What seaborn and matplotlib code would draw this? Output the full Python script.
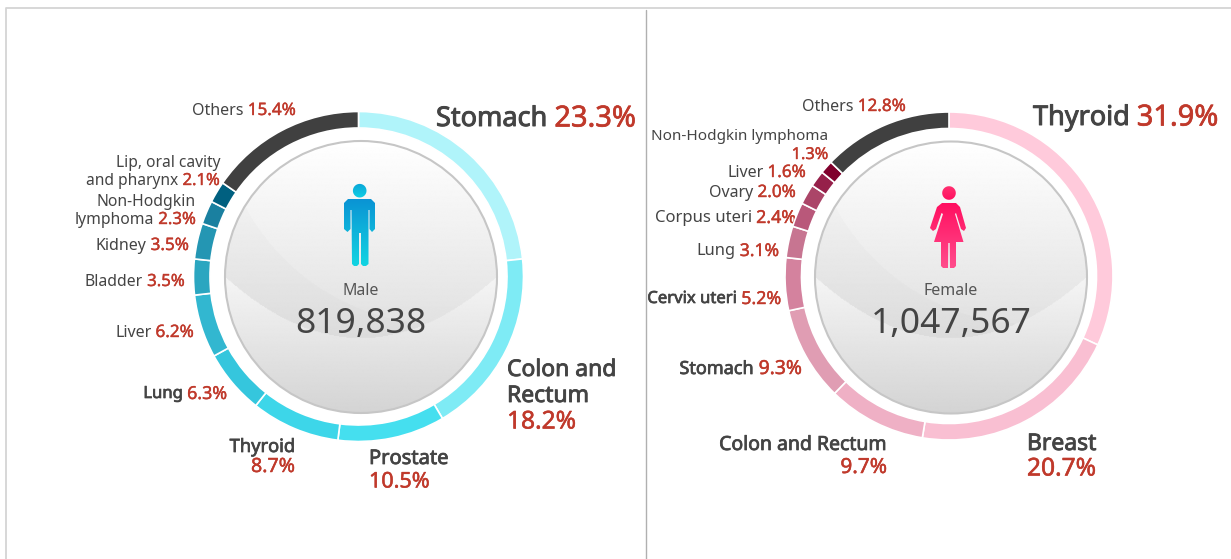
import numpy as np
import matplotlib
matplotlib.use("Agg")
import matplotlib.pyplot as plt
import matplotlib.patheffects as pe
import seaborn as sns
from matplotlib.patches import Circle, PathPatch
from matplotlib.path import Path

# === data ===
male_names = ["Stomach", "Colon and\nRectum\n", "Prostate\n", "Thyroid\n", "Lung", "Liver", "Bladder",
              "Kidney", "Non-Hodgkin\nlymphoma", "Lip, oral cavity\nand pharynx", "Others"]
male_pct = [23.3, 18.2, 10.5, 8.7, 6.3, 6.2, 3.5, 3.5, 2.3, 2.1, 15.4]
male_colors = ["#b0f4fa", "#7eebf5", "#45dfef", "#3dd6e9", "#35c6dd", "#32b7d0", "#2ba6c0",
               "#2496b3", "#1a80a0", "#006080", "#404040"]
male_total = "819,838"

female_names = ["Thyroid", "Breast\n", "Colon and Rectum\n", "Stomach", "Cervix uteri", "Lung", "Corpus uteri",
                "Ovary", "Liver", "Non-Hodgkin lymphoma\n", "Others"]
female_pct = [31.9, 20.7, 9.7, 9.3, 5.2, 3.1, 2.4, 2.0, 1.6, 1.3, 12.8]
female_colors = ["#ffcadb", "#f9bfd2", "#efb0c5", "#e09db3", "#d4829e", "#c77591", "#b9587a",
                 "#ab4568", "#96204a", "#80002c", "#404040"]
female_total = "1,047,567"

# === label layout: x, y of first line (px), align, size, name is bold, line step ===
male_layout = [
    (436, 119, "left", 19.5, True, 0), (507, 370, "left", 16.5, True, 26), (369, 459, "left", 14.5, True, 23),
    (295, 447, "right", 13.2, True, 20), (227, 394, "right", 12, True, 0), (194, 333, "right", 11.5, False, 0),
    (185, 282, "right", 11.3, False, 0), (189, 246, "right", 11.5, False, 0), (196, 202, "right", 11.3, False, 18),
    (220, 163, "right", 11.2, False, 18), (296, 111, "right", 11.5, False, 0),
]
female_layout = [
    (1033, 118, "left", 19.5, True, 0), (1027, 444, "left", 16.5, True, 25), (887, 445, "right", 14, True, 23),
    (802, 369, "right", 13, True, 0), (781, 299, "right", 12, True, 0), (779, 251, "right", 11.8, False, 0),
    (796, 218, "right", 12, False, 0), (796, 193, "right", 11.5, False, 0), (806, 173, "right", 11.5, False, 0),
    (828, 137, "right", 11, False, 18), (906, 107, "right", 11.5, False, 0),
]

sns.set_theme(style="white")
plt.rcParams["font.family"] = ["Noto Sans", "DejaVu Sans"]
W, H = 1231, 559
fig = plt.figure(figsize=(W / 100, H / 100), dpi=100)
bg = fig.add_axes([0, 0, 1, 1])
bg.set_xlim(0, W)
bg.set_ylim(H, 0)
bg.axis("off")
DARK = "#444444"
RED = "#c0392b"

# frame and divider
bg.plot([6, 6, W], [H, 8, 8], color="#d4d4d4", lw=1.3)
bg.plot([646, 646], [10, H], color="#b0b0b0", lw=1)


def ring(data, colors, cx, cy, r):
    ax = fig.add_axes([(cx - r) / W, 1 - (cy + r) / H, 2 * r / W, 2 * r / H])
    ax.pie(data, colors=sns.color_palette(colors), startangle=90, counterclock=False, radius=1,
           wedgeprops=dict(width=16.5 / r, edgecolor="white", linewidth=1.2))
    ax.set_xlim(-1, 1)
    ax.set_ylim(-1, 1)
    ax.patch.set_alpha(0)


def sphere(cx, cy, r):
    n = 300
    u, w = np.meshgrid(np.linspace(-1, 1, n), np.linspace(-1, 1, n))
    arc = 0.45 * (1 - u ** 2)
    up = 0.985 - 0.125 * (w + 1) / 1.45
    low = 0.96 - 0.13 * np.clip(w, 0, 1)
    swoosh = (u - 0.6) ** 2 + (w + 1.3) ** 2 < 1.65 ** 2
    up = np.where(swoosh, up + 0.015, up)
    v = np.where(w < arc, up, low)
    im = bg.imshow(np.clip(v, 0, 1), cmap="gray", vmin=0, vmax=1, extent=[cx - r, cx + r, cy + r, cy - r],
                   aspect="auto", zorder=1)
    im.set_clip_path(Circle((cx, cy), r, transform=bg.transData))
    bg.add_patch(Circle((cx, cy), r, fill=False, ec="#c6c6c6", lw=1.5, zorder=2))
    bg.set_xlim(0, W)
    bg.set_ylim(H, 0)


def gradient_icon(verts_list, box, top, bottom):
    # fill a set of closed shapes with a vertical gradient
    verts, codes = [], []
    for p in verts_list:
        verts += p + [p[0]]
        codes += [Path.MOVETO] + [Path.LINETO] * (len(p) - 1) + [Path.CLOSEPOLY]
    clip = PathPatch(Path(verts, codes), transform=bg.transData, fc="none", ec="none")
    bg.add_patch(clip)
    cmap = sns.blend_palette([top, bottom], as_cmap=True)
    im = bg.imshow(np.linspace(0, 1, 64)[:, None], cmap=cmap, extent=box, aspect="auto", zorder=3)
    im.set_clip_path(clip)
    bg.set_xlim(0, W)
    bg.set_ylim(H, 0)


def circle_pts(cx, cy, r, n=40):
    t = np.linspace(0, 2 * np.pi, n, endpoint=False)
    return [(cx + r * np.cos(a), cy + r * np.sin(a)) for a in t]


def male_icon():
    body = [(348, 199), (371, 199), (375, 203), (375, 229), (372, 232), (369.5, 229), (369.5, 210), (368.5, 210),
            (368.5, 264), (366, 266), (363, 266), (361, 264), (361, 233), (359, 233), (359, 264), (357, 266),
            (354, 266), (352, 264), (351.5, 210), (350.5, 210), (350.5, 229), (347.5, 232), (344, 229), (344, 203)]
    gradient_icon([body], [344, 376, 266, 199], "#0a94d4", "#12d4e2")
    gradient_icon([circle_pts(359.7, 190.7, 6.8)], [352, 367, 198, 183], "#0aa4d8", "#10d0e4")


def female_icon():
    dress = [(942, 203), (956, 203), (960, 207), (966, 228), (964, 231), (961, 229), (956, 213), (955, 214),
             (963.5, 242), (956, 242), (956, 266), (954, 268), (950, 268), (949.7, 243), (948.3, 243), (948, 268),
             (943, 268), (941, 266), (941, 242), (934, 242), (943, 214), (941.5, 213), (936, 229), (933, 231),
             (930, 228), (937, 207)]
    gradient_icon([dress], [930, 967, 268, 203], "#ff0f60", "#ff4c8c")
    gradient_icon([circle_pts(949, 193, 6.8)], [942, 956, 200, 186], "#ff3070", "#ff1060")


def labels(names, pcts, layout):
    rend = fig.canvas.get_renderer()
    for name, pct, (x, y, ha, size, bold, step) in zip(names, pcts, layout):
        lines = name.split("\n")
        for i, line in enumerate(lines):
            yy = y + i * step
            last = i == len(lines) - 1
            t1 = bg.text(0, yy, line, color=DARK, fontsize=size, va="center", zorder=5)
            if bold:
                t1.set_path_effects([pe.withStroke(linewidth=0.025 * size + 0.2, foreground=DARK)])
            w1 = t1.get_window_extent(rend).width if line else 0
            if last:
                t2 = bg.text(0, yy, f"{pct}%", color=RED, fontsize=size * 1.07, va="center", zorder=5)
                t2.set_path_effects([pe.withStroke(linewidth=0.025 * size, foreground=RED)])
                w2 = t2.get_window_extent(rend).width
                gap = size * 0.36 if line else 0
            else:
                t2, w2, gap = None, 0, 0
            total = w1 + gap + w2
            left = x if ha == "left" else x - total
            t1.set_x(left)
            if t2 is not None:
                t2.set_x(left + w1 + gap)


ring(male_pct, male_colors, 358.5, 276.5, 165)
ring(female_pct, female_colors, 949, 276, 164)
sphere(361, 277, 136)
sphere(951, 277.5, 136)
male_icon()
female_icon()
labels(male_names, male_pct, male_layout)
labels(female_names, female_pct, female_layout)

for cx, word, total in [(361, "Male", male_total), (951, "Female", female_total)]:
    bg.text(cx, 291, word, color="#555555", fontsize=11.5, ha="center", va="center", zorder=5)
    bg.text(cx, 324, total, color=DARK, fontsize=25.5, ha="center", va="center", zorder=5)

fig.savefig("out.png", dpi=100)
